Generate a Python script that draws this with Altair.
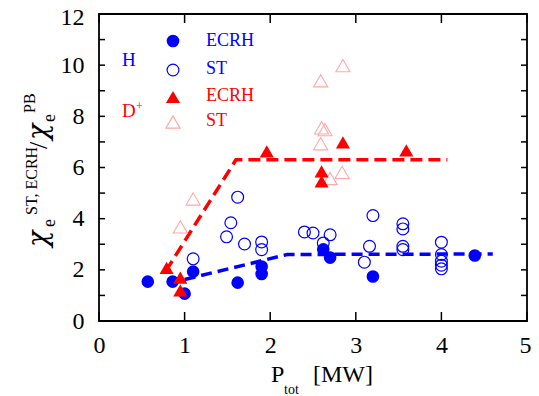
import altair as alt
import pandas as pd

# ---- data ----
h_ecrh_x = [0.57, 0.86, 1.00, 1.10, 1.62, 1.90, 1.90, 2.62, 2.70, 3.20, 4.39]
h_ecrh_y = [1.54, 1.54, 1.07, 1.93, 1.50, 2.13, 1.84, 2.80, 2.48, 1.74, 2.56]

h_st_x = [1.10, 1.62, 1.54, 1.49, 1.70, 1.90, 1.90, 2.40, 2.50, 2.70, 2.62,
          3.20, 3.16, 3.10, 3.55, 3.55, 3.55, 3.55, 4.00, 4.00, 4.00, 4.00, 4.00]
h_st_y = [2.43, 4.84, 3.84, 3.29, 3.01, 3.09, 2.79, 3.48, 3.44, 3.37, 3.05,
          4.12, 2.92, 2.30, 3.80, 3.60, 2.92, 2.79, 3.08, 2.60, 2.34, 2.18, 2.04]

d_ecrh_x = [0.79, 0.95, 0.95, 1.96, 2.85, 3.59, 2.60, 2.60]
d_ecrh_y = [2.08, 1.70, 1.20, 6.63, 6.98, 6.67, 5.85, 5.46]

d_st_x = [1.10, 0.95, 2.85, 2.59, 2.60, 2.64, 2.59, 2.84, 2.70]
d_st_y = [4.77, 3.68, 9.98, 9.39, 7.55, 7.48, 6.93, 5.81, 5.57]

red_fit_x = [0.78, 1.60, 4.07]
red_fit_y = [1.95, 6.30, 6.30]
blue_fit_x = [1.00, 2.20, 4.60]
blue_fit_y = [1.62, 2.60, 2.62]

x_ticks = [0, 1, 2, 3, 4, 5]
y_ticks = list(range(0, 13))
y_labels = [0, 2, 4, 6, 8, 10, 12]

W, H = 428, 307
FONT = "Liberation Serif"
GREEK = "DejaVu Serif"
BLUE = "#0000ff"
RED = "#ff0000"
PALE = "#ffa8a8"

xs = alt.Scale(domain=[0, 5], nice=False, zero=False)
ys = alt.Scale(domain=[0, 12], nice=False, zero=False)

X = alt.X("x:Q", scale=xs,
          axis=alt.Axis(values=x_ticks, format="d", ticks=False, domain=False, grid=False,
                        labelFont=FONT, labelFontSize=24, labelColor="black",
                        labelBaseline="alphabetic", labelPadding=31, labelFlush=False,
                        labelOverlap=False, title=None,
                        labelOffset=alt.ConditionalAxisNumber(
                            condition={"test": "datum.value == 5", "value": -2}, value=0)))
Y = alt.Y("y:Q", scale=ys,
          axis=alt.Axis(values=y_labels, format="d", ticks=False, domain=False, grid=False,
                        labelFont=FONT, labelFontSize=24, labelColor="black",
                        labelBaseline="middle", labelPadding=15, labelFlush=False,
                        labelOverlap=False, title=None,
                        labelOffset=alt.ConditionalAxisNumber(
                            condition={"test": "datum.value == 12", "value": 3}, value=0)))


def df(xv, yv):
    return pd.DataFrame({"x": xv, "y": yv})


red_line = alt.Chart(df(red_fit_x, red_fit_y)).mark_line(
    color=RED, strokeWidth=3.5, strokeDash=[12, 6]).encode(x=X, y=Y)
blue_line = alt.Chart(df(blue_fit_x, blue_fit_y)).mark_line(
    color=BLUE, strokeWidth=3.5, strokeDash=[11, 6]).encode(x=X, y=Y)

h_st = alt.Chart(df(h_st_x, h_st_y)).mark_point(
    shape="circle", size=140, filled=False, color=BLUE, strokeWidth=1.2, opacity=1).encode(x=X, y=Y)
h_ecrh = alt.Chart(df(h_ecrh_x, h_ecrh_y)).mark_point(
    shape="circle", size=160, filled=True, color=BLUE, opacity=1).encode(x=X, y=Y)
d_st = alt.Chart(df(d_st_x, d_st_y)).mark_point(
    shape="triangle-up", size=200, filled=False, color=PALE, strokeWidth=1.1, opacity=1).encode(x=X, y=Y)
d_ecrh = alt.Chart(df(d_ecrh_x, d_ecrh_y)).mark_point(
    shape="triangle-up", size=200, filled=True, color=RED, opacity=1).encode(x=X, y=Y)

# inside ticks
xt = pd.DataFrame({"x": x_ticks})
yt = pd.DataFrame({"y": y_ticks})
tick_x_bot = alt.Chart(xt).mark_rule(color="black", strokeWidth=1.5).encode(
    x=alt.X("x:Q", scale=xs), y=alt.value(H), y2=alt.value(H - 9))
tick_x_top = alt.Chart(xt).mark_rule(color="black", strokeWidth=1.5).encode(
    x=alt.X("x:Q", scale=xs), y=alt.value(0), y2=alt.value(9))
tick_y_left = alt.Chart(yt).mark_rule(color="black", strokeWidth=1.5).encode(
    y=alt.Y("y:Q", scale=ys), x=alt.value(0), x2=alt.value(6))
tick_y_right = alt.Chart(yt).mark_rule(color="black", strokeWidth=1.5).encode(
    y=alt.Y("y:Q", scale=ys), x=alt.value(W), x2=alt.value(W - 6))

one = pd.DataFrame({"a": [0]})


def txt(text, x, y, size, color="black", angle=0, align="left", baseline="alphabetic",
        font=FONT, style="normal"):
    return alt.Chart(one).mark_text(text=text, font=font, fontSize=size, color=color,
                                    fontStyle=style, angle=angle, align=align,
                                    baseline=baseline).encode(
        x=alt.value(x), y=alt.value(y))


def sym(shape, filled, color, x, y, size):
    return alt.Chart(one).mark_point(shape=shape, filled=filled, color=color, size=size,
                                     opacity=1, strokeWidth=1.2).encode(
        x=alt.value(x), y=alt.value(y))


legend = [
    sym("circle", True, BLUE, 74, 27, 160),
    sym("circle", False, BLUE, 74, 56, 140),
    sym("triangle-up", True, RED, 74, 83, 200),
    sym("triangle-up", False, PALE, 74, 108, 200),
    txt("ECRH", 107, 27, 18, BLUE, baseline="middle"),
    txt("ST", 107, 55, 18, BLUE, baseline="middle"),
    txt("ECRH", 107, 82, 18, RED, baseline="middle"),
    txt("ST", 107, 107, 18, RED, baseline="middle"),
    txt("H", 23, 46, 19, BLUE, baseline="middle"),
    txt("D", 23, 97, 19, RED, baseline="middle"),
    txt("+", 37, 92, 12, RED, baseline="middle"),
]

titles = [
    txt("P", 172, 368, 24),
    txt("tot", 185, 380, 14),
    txt("[MW]", 214, 368, 24),
    txt("χ", -52, 233, 27, angle=270, font=GREEK, style="italic"),
    txt("e", -44, 213, 18, angle=270),
    txt("ST, ECRH", -62, 201, 16, angle=270),
    txt("/", -52, 135, 26, angle=270),
    txt("χ", -52, 126, 27, angle=270, font=GREEK, style="italic"),
    txt("e", -44, 108, 18, angle=270),
    txt("PB", -64, 99, 16, angle=270),
]

chart = alt.layer(
    tick_x_bot, tick_x_top, tick_y_left, tick_y_right,
    red_line, blue_line, h_st, h_ecrh, d_st, d_ecrh,
    *legend, *titles
).properties(width=W, height=H).configure(
    autosize=alt.AutoSizeParams(type="none"),
    padding={"left": 91, "top": 6, "right": 4, "bottom": 74},
).configure_view(stroke="black", strokeWidth=1.8)

chart.save("out.html", embed_options={"renderer": "svg", "actions": False})
